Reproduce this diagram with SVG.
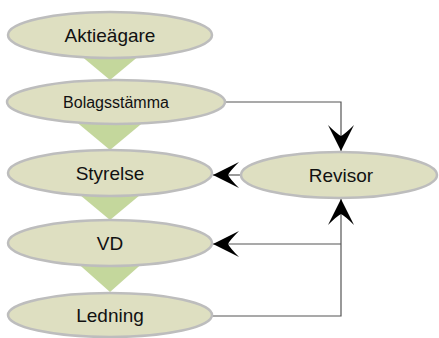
<svg xmlns="http://www.w3.org/2000/svg" width="439" height="338" viewBox="0 0 439 338">
  <style>
    .node ellipse { fill: #dedfc1; stroke: #bdbdbd; stroke-width: 2.5; }
    .node text { font-family: "Liberation Sans", Arial, sans-serif; font-size: 19px; fill: #111; text-anchor: middle; }
    .tri { fill: #c4d79c; }
    .conn { fill: none; stroke: #555; stroke-width: 1.2; }
  </style>
  <defs>
    <marker id="arrow" viewBox="-27 -14 28 28" markerWidth="28" markerHeight="28" refX="0" refY="0" orient="auto" markerUnits="userSpaceOnUse">
      <path d="M0,0 L-26,-13 Q-17,-4 -15,0 Q-17,4 -26,13 Z" fill="#000"/>
    </marker>
  </defs>
  <g id="triangles">
    <polygon class="tri" points="74,50 146,50 110,80"/>
    <polygon class="tri" points="74,120 146,120 110,150"/>
    <polygon class="tri" points="74,190 146,190 110,220"/>
    <polygon class="tri" points="74,260 146,260 110,292"/>
  </g>
  <g id="connectors">
    <path class="conn" d="M225,102 H341 V151" marker-end="url(#arrow)"/>
    <path class="conn" d="M240,175 H213" marker-end="url(#arrow)"/>
    <path class="conn" d="M341,244 H213" marker-end="url(#arrow)"/>
    <path class="conn" d="M212,316 H341 V199" marker-end="url(#arrow)"/>
  </g>
  <g id="aktieagare" class="node">
    <ellipse cx="110" cy="35" rx="102" ry="23"/>
    <text x="110" y="42">Aktieägare</text>
  </g>
  <g id="bolagsstamma" class="node">
    <ellipse cx="116" cy="102" rx="109" ry="22"/>
    <text x="116" y="108" style="font-size:16px">Bolagsstämma</text>
  </g>
  <g id="styrelse" class="node">
    <ellipse cx="110" cy="173" rx="102" ry="23"/>
    <text x="110" y="180">Styrelse</text>
  </g>
  <g id="vd" class="node">
    <ellipse cx="110" cy="243" rx="102" ry="23"/>
    <text x="110" y="250">VD</text>
  </g>
  <g id="ledning" class="node">
    <ellipse cx="110" cy="315" rx="102" ry="22"/>
    <text x="110" y="322">Ledning</text>
  </g>
  <g id="revisor" class="node">
    <ellipse cx="339" cy="175" rx="98" ry="23"/>
    <text x="341" y="182">Revisor</text>
  </g>
</svg>
